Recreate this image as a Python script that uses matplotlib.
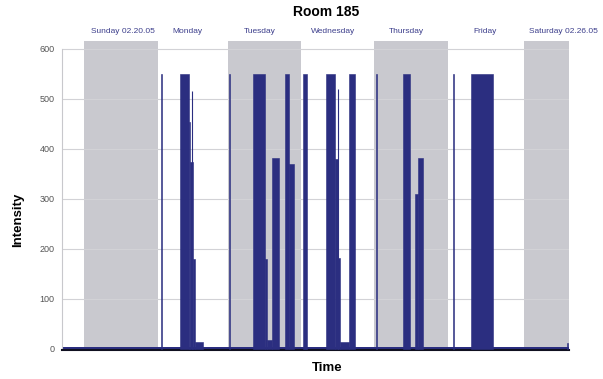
import matplotlib
matplotlib.use("Agg")
import matplotlib.pyplot as plt
import numpy as np

plt.rcParams['font.family'] = ['Liberation Sans', 'DejaVu Sans']

# ---- data (time in hours from Sunday 00:00) ----
day_labels = ["Sunday 02.20.05", "Monday", "Tuesday", "Wednesday",
              "Thursday", "Friday", "Saturday 02.26.05"]
day_label_hours = [13.0, 34.0, 57.5, 81.5, 105.5, 131.5, 157.0]

shade_start = [0.0, 47.4, 94.9, 144.0]
shade_end = [24.3, 71.1, 119.3, 158.7]

seg_start = [25.2, 31.4, 34.5, 34.9, 35.7, 36.6,
             47.7, 55.3, 59.5, 60.0, 61.6, 65.8, 67.1,
             71.9, 79.2, 82.3, 83.1, 83.8, 86.7,
             95.7, 104.5, 108.5, 109.3,
             120.8, 126.8, 158.2]
seg_end = [25.55, 34.5, 34.9, 35.7, 36.6, 39.1,
           48.05, 59.5, 60.0, 61.6, 64.1, 67.1, 68.9,
           73.1, 82.3, 83.1, 83.8, 86.7, 88.8,
           96.0, 106.7, 109.3, 110.9,
           121.1, 134.0, 158.5]
seg_value = [550, 550, 454, 375, 180, 14,
             550, 550, 180, 18, 383, 550, 370,
             550, 550, 380, 183, 14, 550,
             550, 550, 310, 383,
             550, 550, 12]

spike_hour = [35.6, 83.3]
spike_value = [516, 520]

idle_start = [-7.07]
idle_end = [158.7]
idle_value = [4]

x_limits = (-7.07, 158.7)
y_ticks = [0, 100, 200, 300, 400, 500, 600]

navy = "#2b2e80"

fig = plt.figure(figsize=(6.03, 3.79), dpi=100)
ax = fig.add_axes([62 / 603, 29.0 / 379, 506.6 / 603, 309.5 / 379])

for s, e in zip(shade_start, shade_end):
    ax.axvspan(s, e, color="#c9c9cf", lw=0, zorder=0)

ax.set_yticks(y_ticks)
ax.yaxis.grid(True, color="#d2d2d6", lw=0.8, zorder=1)
ax.set_axisbelow(True)

starts = np.array(seg_start)
ends = np.array(seg_end)
ax.bar(idle_start, idle_value, width=np.array(idle_end) - np.array(idle_start),
       align="edge", color=navy, lw=0, zorder=2)
ax.bar(starts, seg_value, width=ends - starts, align="edge",
       color=navy, edgecolor=navy, lw=0.4, zorder=3)
ax.vlines(spike_hour, 0, spike_value, color=navy, lw=0.8, zorder=3)

ax.set_xlim(*x_limits)
ax.set_ylim(-2, 617)
ax.set_xticks([])
for sp in ["top", "right"]:
    ax.spines[sp].set_visible(False)
ax.spines["left"].set_bounds(0, 600)
ax.spines["left"].set_color("#c8c8cc")
ax.spines["left"].set_linewidth(0.8)
ax.spines["bottom"].set_color("#101020")
ax.spines["bottom"].set_linewidth(1.5)
ax.tick_params(axis="y", length=0, labelsize=6.5, labelcolor="#555555", pad=5.5)

for lbl, h in zip(day_labels, day_label_hours):
    ax.text(h, 628, lbl, ha="center", va="bottom", fontsize=6,
            color="#3d3f8c", clip_on=False)

fig.text(326 / 603, 1 - 12 / 379, "Room 185", ha="center", va="center",
         fontsize=10, fontweight="bold")
fig.text(327 / 603, 1 - 368 / 379, "Time", ha="center", va="center",
         fontsize=9.5, fontweight="bold")
fig.text(18 / 603, 1 - 220 / 379, "Intensity", ha="center", va="center",
         rotation=90, fontsize=9.5, fontweight="bold")

fig.savefig("out.png", dpi=100)
